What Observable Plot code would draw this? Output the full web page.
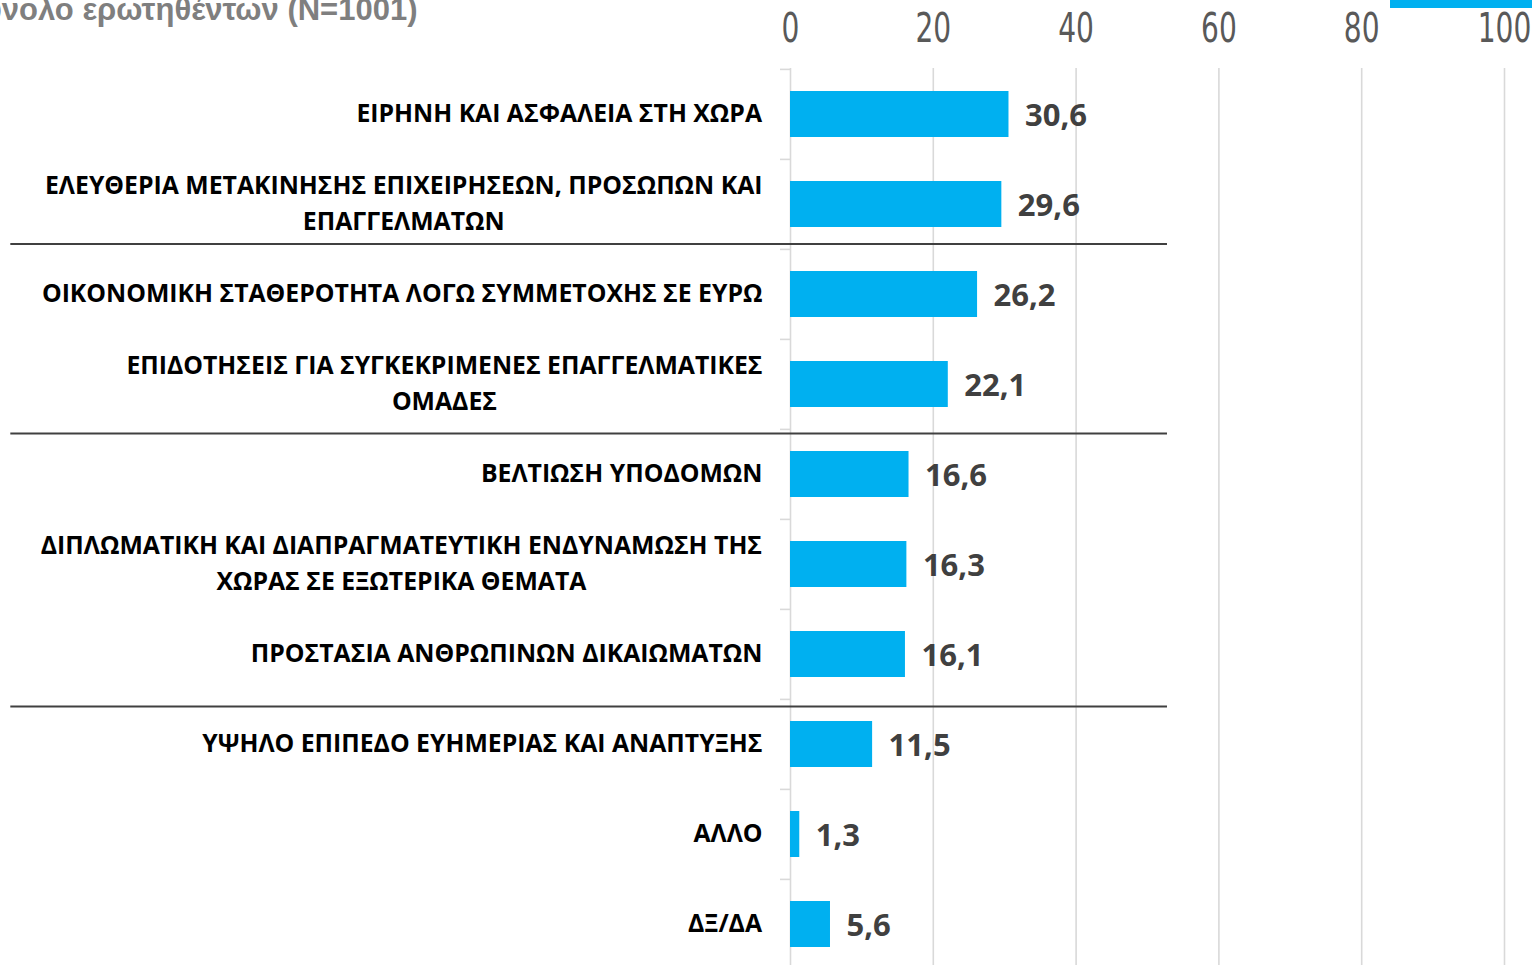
<!DOCTYPE html>
<html>
<head>
<meta charset="utf-8">
<script src="https://cdn.jsdelivr.net/npm/d3@7"></script>
<script src="https://cdn.jsdelivr.net/npm/@observablehq/plot@0.6"></script>
<style>
  html, body { margin: 0; padding: 0; background: #fff; overflow: hidden; }
  #wrap { position: relative; width: 1532px; height: 965px; }
  #legendKey { position: absolute; left: 1390px; top: 0; width: 142px; height: 8px; background: #00b0f0; }
</style>
</head>
<body>
<div id="wrap"><div id="chart"></div><div id="legendKey"></div></div>
<script>
const categories = [
  "ΕΙΡΗΝΗ ΚΑΙ ΑΣΦΑΛΕΙΑ ΣΤΗ ΧΩΡΑ",
  "ΕΛΕΥΘΕΡΙΑ ΜΕΤΑΚΙΝΗΣΗΣ ΕΠΙΧΕΙΡΗΣΕΩΝ, ΠΡΟΣΩΠΩΝ ΚΑΙ ΕΠΑΓΓΕΛΜΑΤΩΝ",
  "ΟΙΚΟΝΟΜΙΚΗ ΣΤΑΘΕΡΟΤΗΤΑ ΛΟΓΩ ΣΥΜΜΕΤΟΧΗΣ ΣΕ ΕΥΡΩ",
  "ΕΠΙΔΟΤΗΣΕΙΣ ΓΙΑ ΣΥΓΚΕΚΡΙΜΕΝΕΣ ΕΠΑΓΓΕΛΜΑΤΙΚΕΣ ΟΜΑΔΕΣ",
  "ΒΕΛΤΙΩΣΗ ΥΠΟΔΟΜΩΝ",
  "ΔΙΠΛΩΜΑΤΙΚΗ ΚΑΙ ΔΙΑΠΡΑΓΜΑΤΕΥΤΙΚΗ ΕΝΔΥΝΑΜΩΣΗ ΤΗΣ ΧΩΡΑΣ ΣΕ ΕΞΩΤΕΡΙΚΑ ΘΕΜΑΤΑ",
  "ΠΡΟΣΤΑΣΙΑ ΑΝΘΡΩΠΙΝΩΝ ΔΙΚΑΙΩΜΑΤΩΝ",
  "ΥΨΗΛΟ ΕΠΙΠΕΔΟ ΕΥΗΜΕΡΙΑΣ ΚΑΙ ΑΝΑΠΤΥΞΗΣ",
  "ΑΛΛΟ",
  "ΔΞ/ΔΑ"
];
const labelLines = [
  "ΕΙΡΗΝΗ ΚΑΙ ΑΣΦΑΛΕΙΑ ΣΤΗ ΧΩΡΑ",
  "ΕΛΕΥΘΕΡΙΑ ΜΕΤΑΚΙΝΗΣΗΣ ΕΠΙΧΕΙΡΗΣΕΩΝ, ΠΡΟΣΩΠΩΝ ΚΑΙ\nΕΠΑΓΓΕΛΜΑΤΩΝ",
  "ΟΙΚΟΝΟΜΙΚΗ ΣΤΑΘΕΡΟΤΗΤΑ ΛΟΓΩ ΣΥΜΜΕΤΟΧΗΣ ΣΕ ΕΥΡΩ",
  "ΕΠΙΔΟΤΗΣΕΙΣ ΓΙΑ ΣΥΓΚΕΚΡΙΜΕΝΕΣ ΕΠΑΓΓΕΛΜΑΤΙΚΕΣ\nΟΜΑΔΕΣ",
  "ΒΕΛΤΙΩΣΗ ΥΠΟΔΟΜΩΝ",
  "ΔΙΠΛΩΜΑΤΙΚΗ ΚΑΙ ΔΙΑΠΡΑΓΜΑΤΕΥΤΙΚΗ ΕΝΔΥΝΑΜΩΣΗ ΤΗΣ\nΧΩΡΑΣ ΣΕ ΕΞΩΤΕΡΙΚΑ ΘΕΜΑΤΑ",
  "ΠΡΟΣΤΑΣΙΑ ΑΝΘΡΩΠΙΝΩΝ ΔΙΚΑΙΩΜΑΤΩΝ",
  "ΥΨΗΛΟ ΕΠΙΠΕΔΟ ΕΥΗΜΕΡΙΑΣ ΚΑΙ ΑΝΑΠΤΥΞΗΣ",
  "ΑΛΛΟ",
  "ΔΞ/ΔΑ"
];
const values = [30.6, 29.6, 26.2, 22.1, 16.6, 16.3, 16.1, 11.5, 1.3, 5.6];
const xTicks = [0, 20, 40, 60, 80, 100];
const titleText = "Σύνολο ερωτηθέντων (N=1001)";
// separators drawn above these categories
const separatorsAbove = [
  {cat: categories[2], dy: -50.5},
  {cat: categories[4], dy: -41},
  {cat: categories[7], dy: -38}
];
const separatorSpan = [-109.2, 52.8];

const data = categories.map((c, i) => ({cat: c, label: labelLines[i], value: values[i]}));
const fmt = v => v.toFixed(1).replace(".", ",");

function draw() {
  const labelFont = "'Open Sans', 'Noto Sans', sans-serif";
  const chart = Plot.plot({
    width: 1532,
    height: 965,
    marginLeft: 790,
    marginRight: 28,
    marginTop: 68,
    marginBottom: 0,
    style: {background: "#fff", overflow: "visible"},
    x: {domain: [0, 100], axis: null},
    y: {domain: categories, range: [68, 970], paddingInner: 0.49, paddingOuter: 0.245, axis: null},
    marks: [
      Plot.gridX(xTicks, {stroke: "#d9d9d9", strokeOpacity: 1, strokeWidth: 1.6}),
      Plot.ruleY(categories, {y: d => d, x1: -1.4, x2: 0, dy: -45.1, stroke: "#d9d9d9", strokeWidth: 1.6}),
      ...separatorsAbove.map(s => Plot.ruleY([s], {y: "cat", x1: separatorSpan[0], x2: separatorSpan[1], dy: s.dy, stroke: "#404040", strokeWidth: 2})),
      Plot.barX(data, {y: "cat", x: "value", fill: "#00b0f0"}),
      Plot.text(data, {
        y: "cat", x: "value", text: d => fmt(d.value), textAnchor: "start", dx: 16, dy: 2,
        fill: "#404040", fontSize: 31, fontWeight: "bold", fontFamily: "'Open Sans', sans-serif"
      }),
      Plot.text(data, {
        y: "cat", text: "label", frameAnchor: "left", dx: -28, dy: -4, textAnchor: "end", lineAnchor: "middle",
        lineHeight: 1.45, fill: "#000", fontSize: 24.8, fontWeight: "bold", fontFamily: labelFont,
        className: "catlabel"
      }),
      Plot.axisX(xTicks, {
        anchor: "top", tickSize: 0, tickPadding: 27, fontSize: 40, fill: "#595959",
        fontFamily: "'DejaVu Sans Condensed', 'DejaVu Sans', sans-serif", fontWeight: 200,
        tickFormat: d => String(d), label: null, className: "xaxis"
      }),
      Plot.text([titleText], {
        text: d => d, frameAnchor: "top-left", dx: -373, dy: -49, textAnchor: "end", lineAnchor: "bottom",
        fill: "#7f7f7f", fontSize: 31, fontWeight: "bold", fontFamily: "'Liberation Sans', Arial, sans-serif"
      })
    ]
  });
  document.getElementById("chart").appendChild(chart);
  // center multi-line category labels within their block (right-aligned block)
  chart.querySelectorAll(".catlabel text").forEach(t => {
    const w = t.getBBox().width;
    t.setAttribute("text-anchor", "middle");
    const spans = t.querySelectorAll("tspan");
    if (spans.length) spans.forEach(s => s.setAttribute("x", -w / 2));
    else t.setAttribute("dx", -w / 2);
  });
  // narrow the tick numerals horizontally, like the condensed face of the original
  chart.querySelectorAll(".xaxis text").forEach(t => {
    const tr = t.getAttribute("transform") || "";
    t.setAttribute("transform", tr + " scale(0.78,1)");
  });
}
(document.fonts && document.fonts.ready ? document.fonts.ready : Promise.resolve()).then(draw);
</script>
</body>
</html>
